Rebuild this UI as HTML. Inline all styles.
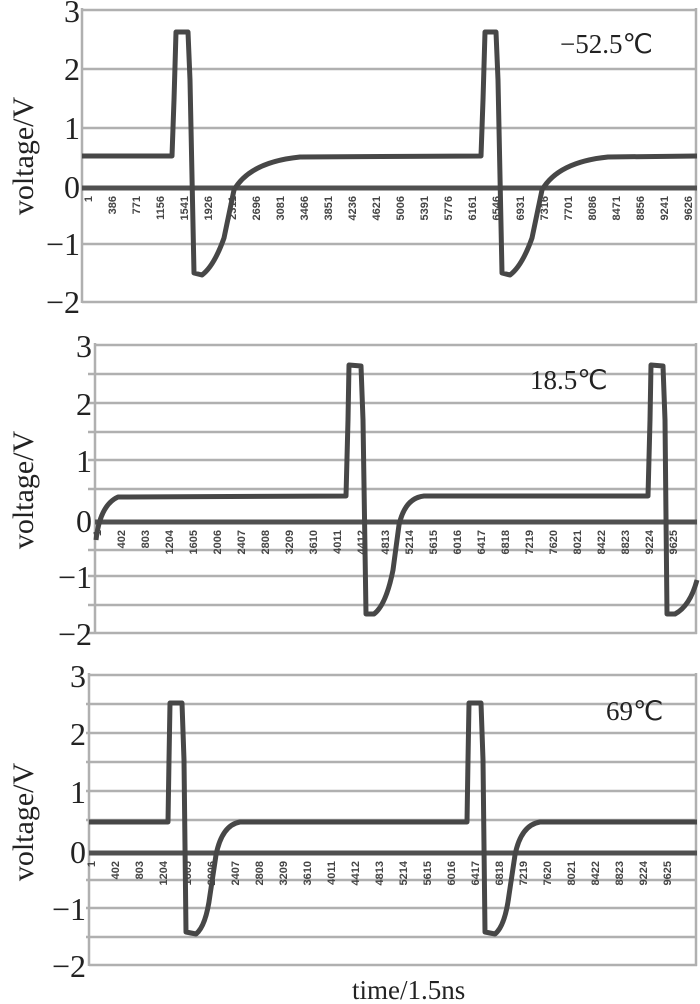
<!DOCTYPE html>
<html><head><meta charset="utf-8"><style>
html,body{margin:0;padding:0;background:#fff;}
svg{display:block;font-family:"Liberation Serif",serif;}
.g{stroke:#b0b0b0;stroke-width:2.5;}
.z{stroke:#505050;stroke-width:5;}
.tr{fill:none;stroke:#474747;stroke-width:5;stroke-linejoin:round;}
.yl{font-size:32px;fill:#222;text-anchor:end;}
.vl{font-size:30px;fill:#222;text-anchor:middle;}
.tk{font-size:11px;fill:#444;font-family:"Liberation Sans",sans-serif;text-anchor:end;font-weight:bold;}
.tl{font-size:27px;fill:#222;}
</style></head><body>
<svg width="700" height="1004" viewBox="0 0 700 1004">
<!-- Panel 1 -->
<g>
<line class="g" x1="82" y1="10" x2="697" y2="10"/>
<line class="g" x1="82" y1="69" x2="697" y2="69"/>
<line class="g" x1="82" y1="128" x2="697" y2="128"/>
<line class="g" x1="82" y1="244" x2="697" y2="244"/>
<line class="g" x1="82" y1="302" x2="697" y2="302"/>
<line class="g" x1="82" y1="8" x2="82" y2="303"/>
<line class="g" x1="696" y1="8" x2="696" y2="303"/>
<line class="z" x1="82" y1="188" x2="697" y2="188"/>
<text class="yl" x="80" y="22">3</text>
<text class="yl" x="80" y="80">2</text>
<text class="yl" x="80" y="139">1</text>
<text class="yl" x="80" y="198">0</text>
<text class="yl" x="80" y="255">−1</text>
<text class="yl" x="80" y="313">−2</text>
<text class="vl" transform="translate(33,156) rotate(-90)">voltage/V</text>
<text class="tl" x="560" y="53">−52.5℃</text>
<g class="tk">
<text transform="translate(92,196) rotate(-90)">1</text>
<text transform="translate(116,196) rotate(-90)">386</text>
<text transform="translate(140,196) rotate(-90)">771</text>
<text transform="translate(164,196) rotate(-90)">1156</text>
<text transform="translate(188,196) rotate(-90)">1541</text>
<text transform="translate(212,196) rotate(-90)">1926</text>
<text transform="translate(236,196) rotate(-90)">2311</text>
<text transform="translate(260,196) rotate(-90)">2696</text>
<text transform="translate(284,196) rotate(-90)">3081</text>
<text transform="translate(308,196) rotate(-90)">3466</text>
<text transform="translate(332,196) rotate(-90)">3851</text>
<text transform="translate(356,196) rotate(-90)">4236</text>
<text transform="translate(380,196) rotate(-90)">4621</text>
<text transform="translate(404,196) rotate(-90)">5006</text>
<text transform="translate(428,196) rotate(-90)">5391</text>
<text transform="translate(452,196) rotate(-90)">5776</text>
<text transform="translate(476,196) rotate(-90)">6161</text>
<text transform="translate(500,196) rotate(-90)">6546</text>
<text transform="translate(524,196) rotate(-90)">6931</text>
<text transform="translate(548,196) rotate(-90)">7316</text>
<text transform="translate(572,196) rotate(-90)">7701</text>
<text transform="translate(596,196) rotate(-90)">8086</text>
<text transform="translate(620,196) rotate(-90)">8471</text>
<text transform="translate(644,196) rotate(-90)">8856</text>
<text transform="translate(668,196) rotate(-90)">9241</text>
<text transform="translate(692,196) rotate(-90)">9626</text>
</g>
<path class="tr" d="M82,156 L172,156 L174,100 L176,32 L188,32 L190,80 L194,273 L202,275 Q214,266 224,238 L234,190 Q250,162 300,157 L481,156 L483,100 L485,32 L496,32 L498,80 L502,273 L510,275 Q522,266 532,238 L542,190 Q558,162 608,157 L697,156"/>
</g>
<!-- Panel 2 -->
<g>
<line class="g" x1="95" y1="345" x2="697" y2="345"/>
<line class="g" x1="88" y1="374" x2="697" y2="374"/>
<line class="g" x1="88" y1="403" x2="697" y2="403"/>
<line class="g" x1="88" y1="432" x2="697" y2="432"/>
<line class="g" x1="88" y1="460" x2="697" y2="460"/>
<line class="g" x1="88" y1="489" x2="697" y2="489"/>
<line class="g" x1="88" y1="550" x2="697" y2="550"/>
<line class="g" x1="88" y1="576" x2="697" y2="576"/>
<line class="g" x1="88" y1="605" x2="697" y2="605"/>
<line class="g" x1="88" y1="633" x2="697" y2="633"/>
<line class="g" x1="95" y1="343" x2="95" y2="634"/>
<line class="g" x1="696" y1="343" x2="696" y2="634"/>
<line class="z" x1="95" y1="522" x2="697" y2="522"/>
<text class="yl" x="92" y="357">3</text>
<text class="yl" x="92" y="415">2</text>
<text class="yl" x="92" y="472">1</text>
<text class="yl" x="92" y="532">0</text>
<text class="yl" x="92" y="588">−1</text>
<text class="yl" x="92" y="645">−2</text>
<text class="vl" transform="translate(33,490) rotate(-90)">voltage/V</text>
<text class="tl" x="530" y="389">18.5℃</text>
<g class="tk">
<text transform="translate(101,530) rotate(-90)">1</text>
<text transform="translate(125,530) rotate(-90)">402</text>
<text transform="translate(149,530) rotate(-90)">803</text>
<text transform="translate(173,530) rotate(-90)">1204</text>
<text transform="translate(197,530) rotate(-90)">1605</text>
<text transform="translate(221,530) rotate(-90)">2006</text>
<text transform="translate(245,530) rotate(-90)">2407</text>
<text transform="translate(269,530) rotate(-90)">2808</text>
<text transform="translate(293,530) rotate(-90)">3209</text>
<text transform="translate(317,530) rotate(-90)">3610</text>
<text transform="translate(341,530) rotate(-90)">4011</text>
<text transform="translate(365,530) rotate(-90)">4412</text>
<text transform="translate(389,530) rotate(-90)">4813</text>
<text transform="translate(413,530) rotate(-90)">5214</text>
<text transform="translate(437,530) rotate(-90)">5615</text>
<text transform="translate(461,530) rotate(-90)">6016</text>
<text transform="translate(485,530) rotate(-90)">6417</text>
<text transform="translate(509,530) rotate(-90)">6818</text>
<text transform="translate(533,530) rotate(-90)">7219</text>
<text transform="translate(557,530) rotate(-90)">7620</text>
<text transform="translate(581,530) rotate(-90)">8021</text>
<text transform="translate(605,530) rotate(-90)">8422</text>
<text transform="translate(629,530) rotate(-90)">8823</text>
<text transform="translate(653,530) rotate(-90)">9224</text>
<text transform="translate(677,530) rotate(-90)">9625</text>
</g>
<path class="tr" d="M96,540 Q100,505 118,497 L346,496 L348,420 L349,365 L361,366 L363,420 L366,614 L374,614 Q386,605 393,570 L399,525 Q405,498 424,496 L648,496 L650,420 L651,365 L663,366 L665,420 L667,614 L675,614 Q690,606 697,580"/>
</g>
<!-- Panel 3 -->
<g>
<line class="g" x1="89" y1="675" x2="697" y2="675"/>
<line class="g" x1="86" y1="704" x2="697" y2="704"/>
<line class="g" x1="86" y1="733" x2="697" y2="733"/>
<line class="g" x1="86" y1="762" x2="697" y2="762"/>
<line class="g" x1="86" y1="791" x2="697" y2="791"/>
<line class="g" x1="86" y1="820" x2="697" y2="820"/>
<line class="g" x1="86" y1="880" x2="697" y2="880"/>
<line class="g" x1="86" y1="908" x2="697" y2="908"/>
<line class="g" x1="86" y1="937" x2="697" y2="937"/>
<line class="g" x1="89" y1="965" x2="697" y2="965"/>
<line class="g" x1="89" y1="673" x2="89" y2="966"/>
<line class="g" x1="696" y1="673" x2="696" y2="966"/>
<line class="z" x1="89" y1="853" x2="697" y2="853"/>
<text class="yl" x="86" y="687">3</text>
<text class="yl" x="86" y="745">2</text>
<text class="yl" x="86" y="803">1</text>
<text class="yl" x="86" y="863">0</text>
<text class="yl" x="86" y="920">−1</text>
<text class="yl" x="86" y="977">−2</text>
<text class="vl" transform="translate(33,822) rotate(-90)">voltage/V</text>
<text class="tl" x="606" y="720">69℃</text>
<g class="tk">
<text transform="translate(95,861) rotate(-90)">1</text>
<text transform="translate(119,861) rotate(-90)">402</text>
<text transform="translate(143,861) rotate(-90)">803</text>
<text transform="translate(167,861) rotate(-90)">1204</text>
<text transform="translate(191,861) rotate(-90)">1605</text>
<text transform="translate(215,861) rotate(-90)">2006</text>
<text transform="translate(239,861) rotate(-90)">2407</text>
<text transform="translate(263,861) rotate(-90)">2808</text>
<text transform="translate(287,861) rotate(-90)">3209</text>
<text transform="translate(311,861) rotate(-90)">3610</text>
<text transform="translate(335,861) rotate(-90)">4011</text>
<text transform="translate(359,861) rotate(-90)">4412</text>
<text transform="translate(383,861) rotate(-90)">4813</text>
<text transform="translate(407,861) rotate(-90)">5214</text>
<text transform="translate(431,861) rotate(-90)">5615</text>
<text transform="translate(455,861) rotate(-90)">6016</text>
<text transform="translate(479,861) rotate(-90)">6417</text>
<text transform="translate(503,861) rotate(-90)">6818</text>
<text transform="translate(527,861) rotate(-90)">7219</text>
<text transform="translate(551,861) rotate(-90)">7620</text>
<text transform="translate(575,861) rotate(-90)">8021</text>
<text transform="translate(599,861) rotate(-90)">8422</text>
<text transform="translate(623,861) rotate(-90)">8823</text>
<text transform="translate(647,861) rotate(-90)">9224</text>
<text transform="translate(671,861) rotate(-90)">9625</text>
</g>
<path class="tr" d="M89,822 L168,822 L169,760 L170,703 L182,703 L184,760 L186,932 L196,934 Q206,926 210,895 L216,855 Q222,825 240,822 L467,822 L468,760 L469,703 L481,703 L483,760 L485,932 L495,934 Q505,926 509,895 L515,855 Q521,825 540,822 L697,822"/>
</g>
<text class="tl" x="352" y="999">time/1.5ns</text>
</svg>
</body></html>
